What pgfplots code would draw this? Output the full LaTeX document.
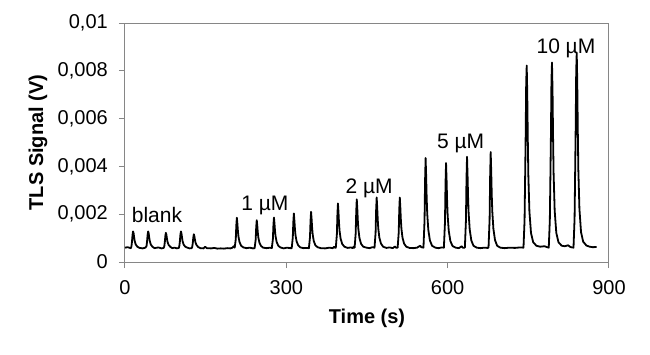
\documentclass[border=0pt]{standalone}
\usepackage{fontspec}
\setmainfont{Liberation Sans}
\usepackage{pgfplots}
\pgfplotsset{compat=1.18}
\definecolor{axgray}{RGB}{134,134,134}
\begin{document}
\begin{tikzpicture}
\path[use as bounding box] (-125pt,-92pt) rectangle (525pt,262pt);
\begin{axis}[
  at={(0pt,0pt)}, anchor=south west,
  width=484pt, height=239pt, scale only axis,
  xmin=0, xmax=900, ymin=0, ymax=0.01,
  scaled y ticks=false, scaled x ticks=false,
  axis line style={axgray, line width=1pt},
  xtick={0,300,600,900},
  xticklabels={0,300,600,900},
  ytick={0,0.002,0.004,0.006,0.008,0.01},
  yticklabels={0,{0,002},{0,004},{0,006},{0,008},{0,01}},
  tick align=outside, tick pos=left,
  major tick length=6pt,
  tick style={axgray, line width=1pt},
  ticklabel style={font=\fontsize{20}{24}\selectfont, text=black},
  yticklabel style={inner sep=0pt, anchor=east, xshift=-11pt},
  xticklabel style={inner sep=0pt, anchor=north, yshift=-12pt},
  clip=false,
]
\addplot[black, line width=1.8pt, line join=round] coordinates {
(0,0.00060) (5,0.00062) (9,0.00059)
(11,0.00058) (12,0.00066) (13,0.00085) (14,0.00113) (15,0.00128) (16,0.00120) (17,0.00103) (18,0.00088) (20,0.00073) (23,0.00064) (27,0.00059)
(33,0.00057) (38,0.00060) (40,0.00066) (41,0.00085) (42,0.00113) (43,0.00128) (44,0.00120) (45,0.00103) (46,0.00088) (48,0.00073) (51,0.00064) (55,0.00058)
(62,0.00061) (68,0.00057) (72,0.00059) (73,0.00065) (74,0.00082) (75,0.00108) (76,0.00122) (77,0.00114) (78,0.00098) (79,0.00085) (81,0.00072) (84,0.00064) (88,0.00058)
(92,0.00060) (97,0.00057) (100,0.00059) (101,0.00066) (102,0.00085) (103,0.00113) (104,0.00128) (105,0.00120) (106,0.00103) (107,0.00088) (109,0.00073) (112,0.00064) (116,0.00060)
(120,0.00057) (124,0.00058) (125,0.00063) (126,0.00078) (127,0.00102) (128,0.00116) (129,0.00108) (130,0.00094) (131,0.00082) (133,0.00071) (136,0.00063) (140,0.00058)
(146,0.00057) (149,0.00064) (152,0.00058) (160,0.00057) (166,0.00059) (172,0.00056) (178,0.00057) (184,0.00056) (190,0.00058) (196,0.00057) (200,0.00060) (202,0.00066) (204,0.00060)
(206,0.00096) (207,0.00153) (208,0.00185) (209,0.00160) (210,0.00128) (211,0.00106) (213,0.00083) (216,0.00068) (220,0.00061) (226,0.00058) (232,0.00060) (238,0.00057)
(241,0.00058) (243,0.00093) (244,0.00146) (245,0.00175) (246,0.00152) (247,0.00122) (248,0.00102) (250,0.00081) (253,0.00067) (257,0.00060) (263,0.00058) (270,0.00060)
(273,0.00058) (275,0.00096) (276,0.00154) (277,0.00186) (278,0.00160) (279,0.00128) (280,0.00107) (282,0.00084) (285,0.00068) (289,0.00061) (295,0.00057) (301,0.00060) (307,0.00058)
(310,0.00058) (312,0.00102) (313,0.00167) (314,0.00203) (315,0.00174) (316,0.00138) (317,0.00113) (319,0.00087) (322,0.00070) (326,0.00061) (332,0.00058) (338,0.00059)
(342,0.00058) (344,0.00104) (345,0.00172) (346,0.00210) (347,0.00180) (348,0.00142) (349,0.00116) (351,0.00088) (354,0.00070) (358,0.00062) (364,0.00058) (372,0.00057) (380,0.00060) (386,0.00058) (389,0.00064) (391,0.00059)
(392,0.00060) (394,0.00116) (395,0.00199) (396,0.00245) (397,0.00208) (398,0.00162) (399,0.00130) (401,0.00097) (404,0.00075) (408,0.00064) (414,0.00059) (420,0.00061) (424,0.00058) (425,0.00064) (426,0.00060)
(427,0.00060) (429,0.00121) (430,0.00212) (431,0.00262) (432,0.00222) (433,0.00171) (434,0.00137) (436,0.00100) (439,0.00076) (443,0.00064) (449,0.00060) (455,0.00058) (460,0.00062)
(464,0.00060) (466,0.00123) (467,0.00218) (468,0.00270) (469,0.00228) (470,0.00176) (471,0.00140) (473,0.00102) (476,0.00077) (480,0.00064) (486,0.00059) (492,0.00061) (498,0.00058) (502,0.00065) (504,0.00060)
(507,0.00060) (509,0.00123) (510,0.00218) (511,0.00270) (512,0.00228) (513,0.00176) (514,0.00140) (516,0.00102) (519,0.00077) (523,0.00064) (529,0.00059) (536,0.00058) (543,0.00060) (549,0.00068) (551,0.00062)
(555,0.00060) (557,0.00173) (558,0.00341) (559,0.00435) (560,0.00360) (561,0.00266) (562,0.00203) (564,0.00135) (567,0.00090) (571,0.00068) (577,0.00060) (583,0.00058) (589,0.00061)
(593,0.00060) (595,0.00166) (596,0.00326) (597,0.00414) (598,0.00343) (599,0.00255) (600,0.00195) (602,0.00131) (605,0.00088) (609,0.00067) (615,0.00060) (621,0.00058) (626,0.00066) (628,0.00060)
(632,0.00060) (634,0.00174) (635,0.00345) (636,0.00440) (637,0.00364) (638,0.00269) (639,0.00204) (641,0.00136) (644,0.00090) (648,0.00068) (654,0.00060) (661,0.00058) (668,0.00060) (674,0.00059)
(676,0.00060) (678,0.00180) (679,0.00360) (680,0.00460) (681,0.00380) (682,0.00280) (683,0.00212) (685,0.00140) (688,0.00092) (692,0.00068) (698,0.00060) (706,0.00058) (715,0.00060) (725,0.00059) (735,0.00061)
(741,0.00060) (743,0.00174) (745,0.00517) (746,0.00746) (747,0.00822) (748,0.00708) (749,0.00517) (750,0.00365) (752,0.00212) (755,0.00121) (759,0.00083) (765,0.00068) (772,0.00064) (780,0.00066) (785,0.00062)
(788,0.00060) (790,0.00176) (792,0.00525) (793,0.00758) (794,0.00835) (795,0.00719) (796,0.00525) (797,0.00370) (799,0.00215) (802,0.00122) (806,0.00083) (812,0.00068) (818,0.00066) (824,0.00070) (828,0.00063) (831,0.00061)
(834,0.00060) (836,0.00182) (838,0.00549) (839,0.00794) (840,0.00875) (841,0.00753) (842,0.00549) (843,0.00386) (845,0.00223) (848,0.00125) (852,0.00085) (858,0.00069) (864,0.00064) (870,0.00062) (877,0.00063)
};
\node[font=\fontsize{21}{25}\selectfont, inner sep=0pt] at (axis cs:59.5,0.00197) {blank};
\node[font=\fontsize{21}{25}\selectfont, inner sep=0pt] at (axis cs:260,0.00238) {1 µM};
\node[font=\fontsize{21}{25}\selectfont, inner sep=0pt] at (axis cs:454,0.0031) {2 µM};
\node[font=\fontsize{21}{25}\selectfont, inner sep=0pt] at (axis cs:624,0.00494) {5 µM};
\node[font=\fontsize{21}{25}\selectfont, inner sep=0pt] at (axis cs:820,0.00895) {10 µM};
\end{axis}
\node[font=\fontsize{20}{24}\selectfont\bfseries] at (242pt,-56pt) {Time (s)};
\node[font=\fontsize{20}{24}\selectfont\bfseries, rotate=90] at (-87pt,119.5pt) {TLS Signal (V)};
\end{tikzpicture}
\end{document}
